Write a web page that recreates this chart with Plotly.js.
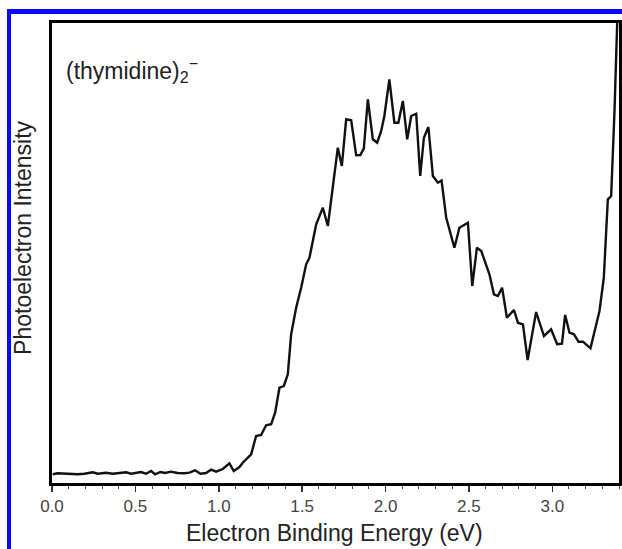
<!DOCTYPE html>
<html>
<head>
<meta charset="utf-8">
<script src="https://cdn.plot.ly/plotly-3.0.1.min.js"></script>
<style>
  html, body { margin: 0; padding: 0; background: #fff; }
  #wrap { position: relative; width: 622px; height: 549px; overflow: hidden; }
  #chart { position: absolute; left: 0; top: 0; width: 622px; height: 549px; }
  #frame { position: absolute; left: 7px; top: 9px; width: 700px; height: 700px;
           border-left: 4px solid #0a0aff; border-top: 5px solid #0a0aff; pointer-events: none; }
</style>
</head>
<body>
<div id="wrap">
  <div id="chart"></div>
  <div id="frame"></div>
</div>
<script>
// Electron binding energy (eV)
const energy = [
  0.004, 0.034, 0.094, 0.154, 0.194, 0.244, 0.274, 0.324, 0.364, 0.404,
  0.444, 0.474, 0.514, 0.534, 0.564, 0.594, 0.618, 0.650, 0.678, 0.714,
  0.754, 0.794, 0.824, 0.858, 0.890, 0.924, 0.954, 0.984, 1.024, 1.064,
  1.090, 1.124, 1.144, 1.194, 1.224, 1.254, 1.284, 1.314, 1.338, 1.364,
  1.390, 1.414, 1.434, 1.464, 1.494, 1.524, 1.544, 1.584, 1.624, 1.654,
  1.714, 1.738, 1.764, 1.794, 1.824, 1.849, 1.870, 1.894, 1.924, 1.950,
  1.974, 1.993, 2.023, 2.053, 2.077, 2.104, 2.130, 2.154, 2.184, 2.208,
  2.230, 2.257, 2.284, 2.314, 2.336, 2.364, 2.413, 2.443, 2.494, 2.520,
  2.548, 2.574, 2.623, 2.650, 2.674, 2.699, 2.728, 2.770, 2.794, 2.824,
  2.852, 2.903, 2.950, 2.993, 3.029, 3.058, 3.077, 3.103, 3.130, 3.157,
  3.184, 3.229, 3.283, 3.309, 3.333, 3.353, 3.373, 3.387, 3.395
];
// Photoelectron intensity (arbitrary units)
const intensity = [
  8.7, 9.7, 9.3, 8.7, 9.3, 10.7, 9.3, 10.3, 9.3, 10.0,
  10.7, 9.3, 10.0, 11.0, 9.3, 12.0, 8.7, 11.0, 10.0, 11.3,
  10.0, 9.7, 10.3, 12.7, 9.3, 10.0, 13.3, 11.3, 14.0, 19.7,
  12.0, 16.0, 20.3, 28.7, 47.0, 48.0, 57.7, 58.7, 70.3, 95.3,
  97.0, 108.7, 148.7, 175.3, 195.3, 218.7, 225.3, 258.7, 275.3, 257.0,
  335.3, 317.0, 363.7, 362.7, 327.7, 328.0, 334.7, 383.7, 343.7, 340.3,
  352.0, 367.0, 403.7, 360.3, 360.3, 382.0, 343.7, 367.0, 369.3, 307.0,
  345.3, 356.0, 307.0, 300.3, 302.5, 265.3, 235.3, 255.3, 260.3, 197.0,
  235.3, 232.0, 208.7, 188.7, 187.0, 195.3, 165.3, 173.0, 160.3, 158.7,
  123.0, 171.0, 147.0, 153.7, 138.7, 139.3, 168.0, 150.3, 148.7, 141.3,
  141.3, 134.7, 172.0, 205.3, 283.7, 287.0, 372.0, 460.3, 492.0
];
const xTickVals = [0, 0.5, 1.0, 1.5, 2.0, 2.5, 3.0];
const xTickText = ["0.0", "0.5", "1.0", "1.5", "2.0", "2.5", "3.0"];
const xTitle = 'Electron Binding Energy (eV)';
const yTitle = 'Photoelectron Intensity';
const label = '(thymidine)<sub>2</sub><sup>\u2212</sup>';

const trace = {
  x: energy, y: intensity, type: 'scatter', mode: 'lines',
  line: { color: '#111', width: 2.4 }, hoverinfo: 'skip'
};

const layout = {
  width: 622, height: 549,
  margin: { l: 52, r: 3, t: 23, b: 66 },
  paper_bgcolor: '#fff', plot_bgcolor: '#fff',
  showlegend: false,
  font: { family: 'Liberation Sans, Arial, sans-serif', color: '#222' },
  xaxis: {
    range: [0, 3.40], showgrid: false, zeroline: false,
    showline: true, linecolor: '#000', linewidth: 3, mirror: true,
    ticks: 'outside', ticklen: 6, tickwidth: 1.5, tickcolor: '#333',
    tickvals: xTickVals, ticktext: xTickText,
    tickfont: { size: 17, color: '#444' },
    minor: { dtick: 0.1, ticks: 'outside', ticklen: 3, tickwidth: 1, tickcolor: '#444', showgrid: false }
  },
  yaxis: {
    range: [0, 460], showgrid: false, zeroline: false,
    showline: true, linecolor: '#000', linewidth: 3, mirror: true,
    ticks: '', showticklabels: false
  },
  annotations: [
    { text: xTitle, xref: 'paper', yref: 'paper',
      x: 0.499, y: -0.109, xanchor: 'center', yanchor: 'middle',
      showarrow: false, font: { size: 23, color: '#222' } },
    { text: yTitle, xref: 'paper', yref: 'paper',
      x: -0.051, y: 0.533, xanchor: 'center', yanchor: 'middle', textangle: -90,
      showarrow: false, font: { size: 23, color: '#222' } },
    { text: label, xref: 'paper', yref: 'paper',
      x: 0.022, y: 0.898, xanchor: 'left', yanchor: 'middle',
      showarrow: false, font: { size: 23, color: '#222' } }
  ]
};

Plotly.newPlot('chart', [trace], layout, { staticPlot: true, displayModeBar: false });
</script>
</body>
</html>
